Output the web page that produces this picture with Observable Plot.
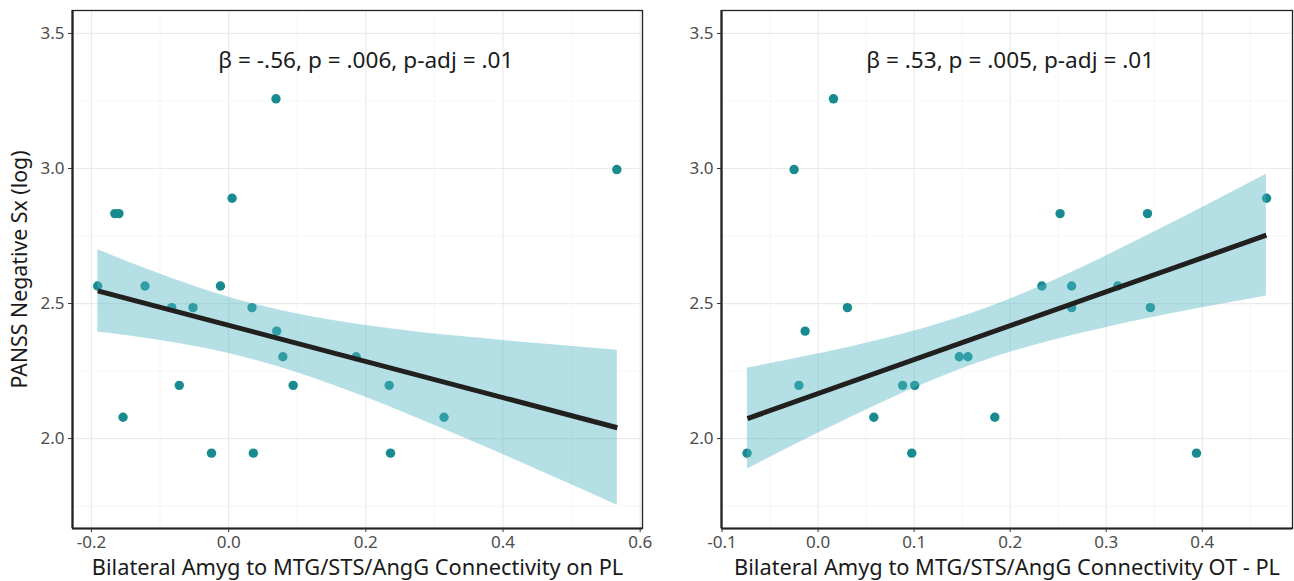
<!DOCTYPE html>
<html>
<head>
<meta charset="utf-8">
<script src="https://cdn.jsdelivr.net/npm/d3@7"></script>
<script src="https://cdn.jsdelivr.net/npm/@observablehq/plot@0.6"></script>
<style>
  html, body { margin: 0; padding: 0; background: #fff; }
  #wrap { display: flex; width: 1294px; height: 581px; font-family: "Noto Sans", sans-serif; }
  #wrap svg { flex: none; }
  #wrap svg:first-child { position: relative; z-index: 2; }
</style>
</head>
<body>
<div id="wrap"></div>
<script>
// ---- Data ----
const leftX = [-0.191, -0.166, -0.160, -0.122, -0.012, 0.005, 0.069, 0.566, -0.083, -0.052, 0.034,
               0.070, 0.079, -0.072, 0.094, -0.154, -0.025, 0.036, 0.186, 0.234, 0.236, 0.314];
const leftY = [2.565, 2.833, 2.833, 2.565, 2.565, 2.890, 3.258, 2.996, 2.485, 2.485, 2.485,
               2.398, 2.303, 2.197, 2.197, 2.079, 1.946, 1.946, 2.303, 2.197, 1.946, 2.079];

const rightX = [-0.025, 0.016, 0.252, 0.343, 0.467, 0.233, 0.264, 0.312, -0.074, -0.020, -0.0135,
                0.0305, 0.058, 0.088, 0.1006, 0.0975, 0.147, 0.156, 0.184, 0.264, 0.346, 0.394];
const rightY = [2.996, 3.258, 2.833, 2.833, 2.890, 2.565, 2.565, 2.565, 1.946, 2.197, 2.398,
                2.485, 2.079, 2.197, 2.197, 1.946, 2.303, 2.303, 2.079, 2.485, 2.485, 1.946];

// fitted line (end points) and confidence band
const leftFitX = [-0.1908, 0.5667];
const leftFitY = [2.547, 2.040];
const leftBandX     = [-0.1908, -0.1136, -0.0408, 0.0320, 0.1048, 0.1922, 0.2796, 0.3670, 0.4544, 0.5667];
const leftBandUpper = [2.699, 2.622, 2.556, 2.501, 2.459, 2.421, 2.393, 2.371, 2.351, 2.327];
const leftBandLower = [2.395, 2.369, 2.337, 2.295, 2.240, 2.160, 2.071, 1.977, 1.880, 1.753];

const rightFitX = [-0.0736, 0.4668];
const rightFitY = [2.074, 2.753];
const rightBandX     = [-0.0736, -0.0174, 0.0347, 0.0867, 0.1387, 0.1908, 0.2428, 0.2948, 0.3469, 0.3988, 0.4668];
const rightBandUpper = [2.261, 2.301, 2.340, 2.385, 2.439, 2.504, 2.581, 2.667, 2.759, 2.853, 2.979];
const rightBandLower = [1.887, 1.989, 2.080, 2.166, 2.243, 2.309, 2.362, 2.407, 2.447, 2.483, 2.528];

const yTicks = [2.0, 2.5, 3.0, 3.5];
const yMinor = [1.75, 2.25, 2.75, 3.25];
const leftXTicks = [-0.2, 0.0, 0.2, 0.4, 0.6];
const leftXMinor = [-0.1, 0.1, 0.3, 0.5];
const rightXTicks = [-0.1, 0.0, 0.1, 0.2, 0.3, 0.4];
const rightXMinor = [-0.05, 0.05, 0.15, 0.25, 0.35, 0.45];

const yLabel = "PANSS Negative Sx (log)";
const leftXLabel = "Bilateral Amyg to MTG/STS/AngG Connectivity on PL";
const rightXLabel = "Bilateral Amyg to MTG/STS/AngG Connectivity OT - PL";
const leftAnnot = [{label: "β = -.56, p = .006, p-adj = .01", x: 0.2, y: 3.4}];
const rightAnnot = [{label: "β = .53, p = .005, p-adj = .01", x: 0.2, y: 3.4}];

const yDomain = [1.667, 3.585];
const leftXDomain = [-0.2277, 0.6034];
const rightXDomain = [-0.1006, 0.494];

// ---- Drawing ----
const font = "Noto Sans";
const fmt = d => d.toFixed(1);

function panel({xs, ys, fitX, fitY, bandX, bandUpper, bandLower, xDomain, xTicks, xMinor, xLabel, annot,
                marginLeft, marginRight, showY}) {
  const data = xs.map((x, i) => ({x, y: ys[i]}));
  const band = bandX.map((x, i) => ({x, lo: bandLower[i], hi: bandUpper[i]}));
  const fit = fitX.map((x, i) => ({x, y: fitY[i]}));
  const marks = [
    Plot.ruleY(yMinor, {stroke: "#f2f2f2", strokeWidth: 0.6}),
    Plot.ruleX(xMinor, {stroke: "#f2f2f2", strokeWidth: 0.6}),
    Plot.ruleY(yTicks, {stroke: "#ebebeb", strokeWidth: 1.2}),
    Plot.ruleX(xTicks, {stroke: "#ebebeb", strokeWidth: 1.2}),
    Plot.dot(data, {x: "x", y: "y", r: 4.7, fill: "#178b8f", stroke: "none"}),
    Plot.areaY(band, {x: "x", y1: "lo", y2: "hi", fill: "#50b7c2", fillOpacity: 0.43, curve: "monotone-x"}),
    Plot.line(fit, {x: "x", y: "y", stroke: "#221f1f", strokeWidth: 5, strokeLinecap: "butt"}),
    Plot.text(annot, {x: "x", y: "y", text: "label", fontSize: 22.6, fill: "#1a1a1a", textAnchor: "middle"}),
    Plot.frame({stroke: "#222", strokeWidth: 1.3}),
    Plot.ruleX([xDomain[0]], {stroke: "#222", strokeWidth: 2.2}),
    Plot.ruleY([yDomain[0]], {stroke: "#222", strokeWidth: 2.2}),
    Plot.axisY(yTicks, {tickSize: 4, tickPadding: 4, tickFormat: fmt, fontSize: 17,
                        fill: "#4d4d4d", stroke: "#333", label: null}),
    Plot.axisX(xTicks, {tickSize: 4, tickPadding: 3, tickFormat: fmt, fontSize: 17,
                        fill: "#4d4d4d", stroke: "#333", label: null}),
    Plot.text([xLabel], {frameAnchor: "bottom", dy: 40, fontSize: 21.8, fill: "#1a1a1a",
                         textAnchor: "middle", lineAnchor: "middle"})
  ];
  if (showY) {
    marks.push(Plot.text([yLabel], {frameAnchor: "left", dx: -52, rotate: -90, fontSize: 21.3,
                                    fill: "#1a1a1a", textAnchor: "middle", lineAnchor: "middle"}));
  }
  return Plot.plot({
    width: 647,
    height: 581,
    marginLeft, marginRight,
    marginTop: 10,
    marginBottom: 53,
    style: {fontFamily: font, background: "transparent", overflow: "visible"},
    x: {domain: xDomain, axis: null},
    y: {domain: yDomain, axis: null},
    marks
  });
}

const wrap = document.getElementById("wrap");
wrap.appendChild(panel({xs: leftX, ys: leftY, fitX: leftFitX, fitY: leftFitY, bandX: leftBandX,
                        bandUpper: leftBandUpper, bandLower: leftBandLower,
                        xDomain: leftXDomain, xTicks: leftXTicks, xMinor: leftXMinor,
                        xLabel: leftXLabel, annot: leftAnnot, marginLeft: 72, marginRight: 5, showY: true}));
wrap.appendChild(panel({xs: rightX, ys: rightY, fitX: rightFitX, fitY: rightFitY, bandX: rightBandX,
                        bandUpper: rightBandUpper, bandLower: rightBandLower,
                        xDomain: rightXDomain, xTicks: rightXTicks, xMinor: rightXMinor,
                        xLabel: rightXLabel, annot: rightAnnot, marginLeft: 74, marginRight: 2, showY: false}));
</script>
</body>
</html>
